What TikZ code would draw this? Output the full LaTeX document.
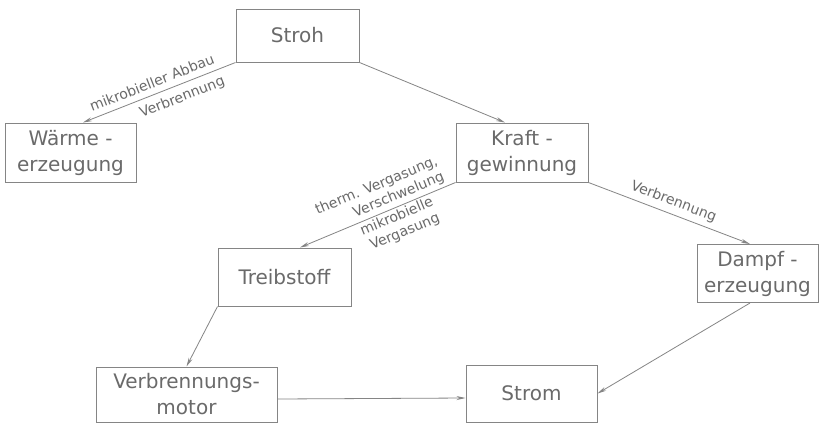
\documentclass[tikz,border=0pt]{standalone}
\usepackage{fontspec}
\setmainfont{DejaVu Sans}
\usetikzlibrary{arrows.meta}
\definecolor{ink}{HTML}{858585}
\definecolor{txt}{HTML}{6A6A6A}
\begin{document}
\begin{tikzpicture}[x=1pt,y=-1pt,
  box/.style={draw=ink, line width=1pt, rectangle, inner sep=0pt, align=center, text=txt, font=\fontsize{20}{26}\selectfont},
  arr/.style={draw=ink, line width=0.8pt, -{Stealth[length=9pt,width=4pt]}},
  lbl/.style={text=txt, font=\fontsize{14}{17}\selectfont, inner sep=0pt, sloped}]
\useasboundingbox (0,0) rectangle (823,424);
\fill[white] (0,0) rectangle (823,424);
\node[box, minimum width=123pt, minimum height=53pt] (stroh) at (297.5,35.5) {Stroh};
\node[box, minimum width=131pt, minimum height=59pt] (waerme) at (70.5,152.5) {Wärme -\\erzeugung};
\node[box, minimum width=132pt, minimum height=59pt] (kraft) at (522,152.5) {Kraft -\\gewinnung};
\node[box, minimum width=133pt, minimum height=58pt] (treib) at (284.5,277) {Treibstoff};
\node[box, minimum width=121pt, minimum height=58pt] (dampf) at (757.5,273.5) {Dampf -\\erzeugung};
\node[box, minimum width=181pt, minimum height=55pt] (motor) at (186.5,394.5) {Verbrennungs-\\motor};
\node[box, minimum width=131pt, minimum height=57pt] (strom) at (531.5,393.5) {Strom};

\draw[arr] (stroh.south west) -- node[lbl, pos=0.52, above=6pt] {mikrobieller Abbau}
  node[lbl, pos=0.38, below=6pt] {Verbrennung} ([xshift=12.5pt]waerme.north);
\draw[arr] (stroh.south east) -- ([xshift=-17pt]kraft.north);
\draw[arr] (kraft.south west) -- node[lbl, align=right, pos=0.44, above=3pt] {therm. Vergasung,\\Verschwelung}
  node[lbl, align=right, pos=0.40, below=2pt] {mikrobielle\\Vergasung} ([xshift=15.5pt]treib.north);
\draw[arr] (kraft.south east) -- node[lbl, pos=0.5, above=5pt] {Verbrennung} ([xshift=-7.5pt]dampf.north);
\draw[arr] (treib.south west) -- (motor.north);
\draw[arr] ([yshift=-4.5pt]motor.east) -- ([yshift=-4.5pt]strom.west);
\draw[arr] ([xshift=-7.5pt]dampf.south) -- (strom.east);
\end{tikzpicture}
\end{document}
